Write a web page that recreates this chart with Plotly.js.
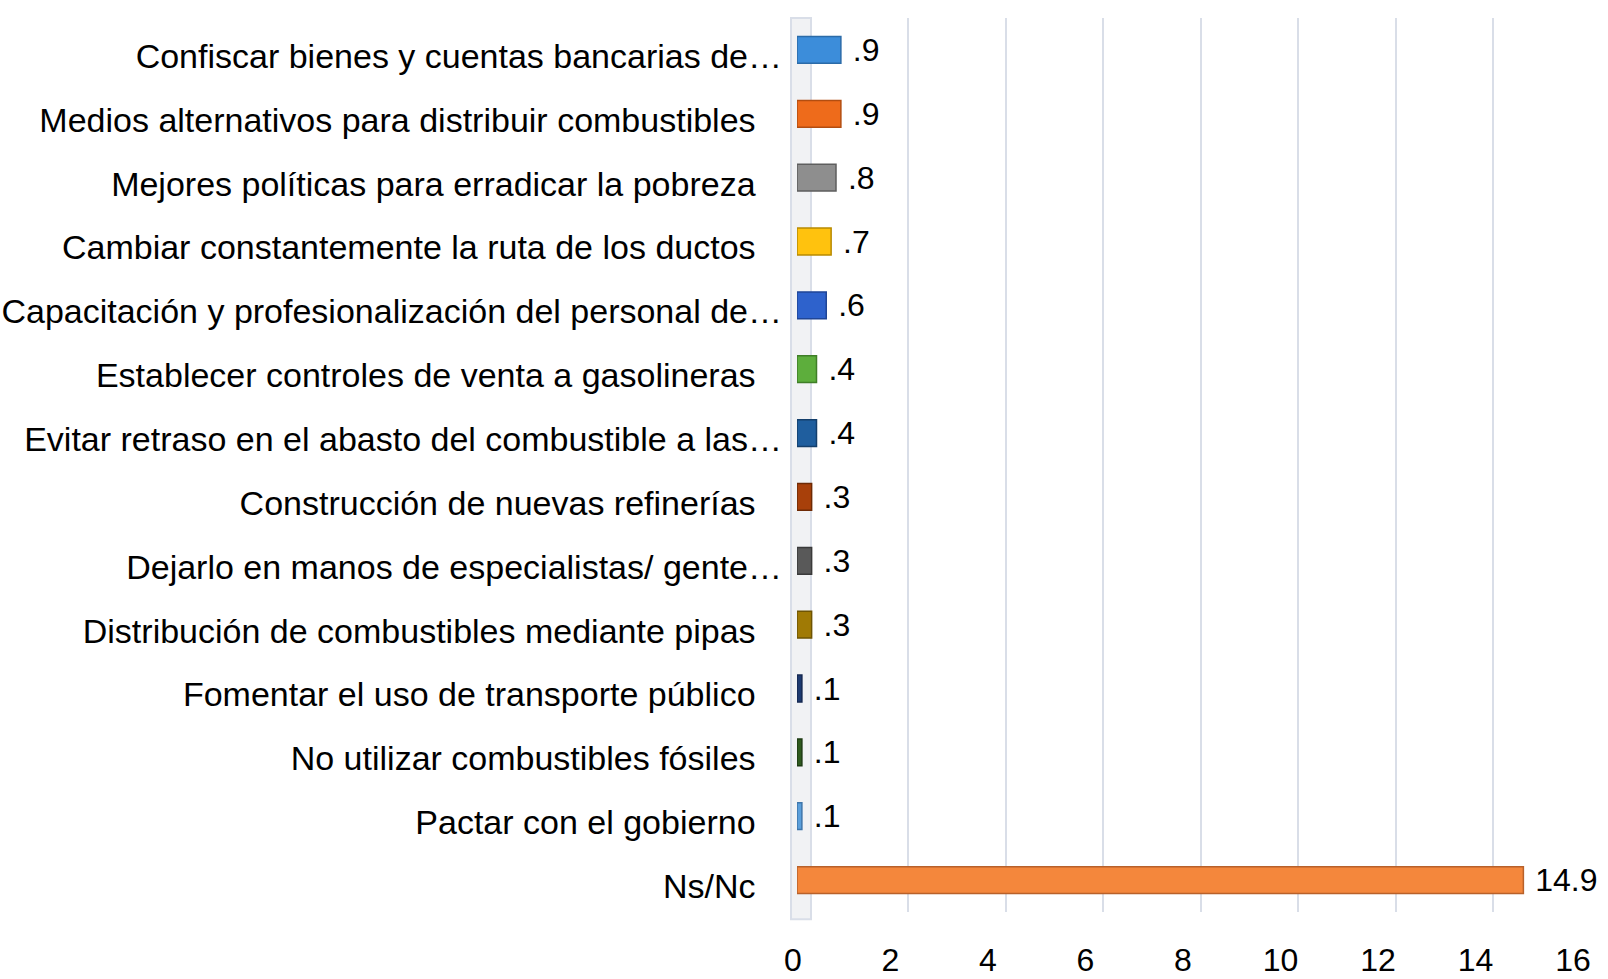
<!DOCTYPE html>
<html>
<head>
<meta charset="utf-8">
<script src="https://cdn.plot.ly/plotly-3.0.1.min.js"></script>
<style>
  html, body { margin: 0; padding: 0; background: #ffffff; }
  #chart { width: 1608px; height: 979px; }
</style>
</head>
<body>
<div id="chart"></div>
<script>
// ---- data ----
var categories = [
  "Confiscar bienes y cuentas bancarias de…",
  "Medios alternativos para distribuir combustibles",
  "Mejores políticas para erradicar la pobreza",
  "Cambiar constantemente la ruta de los ductos",
  "Capacitación y profesionalización del personal de…",
  "Establecer controles de venta a gasolineras",
  "Evitar retraso en el abasto del combustible a las…",
  "Construcción de nuevas refinerías",
  "Dejarlo en manos de especialistas/ gente…",
  "Distribución de combustibles mediante pipas",
  "Fomentar el uso de transporte público",
  "No utilizar combustibles fósiles",
  "Pactar con el gobierno",
  "Ns/Nc"
];
var values = [0.9, 0.9, 0.8, 0.7, 0.6, 0.4, 0.4, 0.3, 0.3, 0.3, 0.1, 0.1, 0.1, 14.9];
var valueLabels = [".9", ".9", ".8", ".7", ".6", ".4", ".4", ".3", ".3", ".3", ".1", ".1", ".1", "14.9"];
var xTickValues = [0, 2, 4, 6, 8, 10, 12, 14, 16];

// ---- styles ----
var barColors = [
  "#3C8DDA", "#EE6B1B", "#8E8E8E", "#FFC20E", "#2E62CC", "#5DAE3C", "#1F5E9E",
  "#A8400A", "#595959", "#A07A05", "#1D3A70", "#2F5A1E", "#5B9FDB", "#F4873C"
];
var edgeColors = [
  "#2B6BA8", "#B34D10", "#5E5E5E", "#B88A00", "#1F4596", "#3F7E27", "#143F6B",
  "#6E2A05", "#3A3A3A", "#6E5403", "#132750", "#1E3B13", "#3E76AB", "#B8612A"
];

// pad non-truncated labels so they end further left, as in the reference
var tickText = categories.map(function (c) {
  return c.slice(-1) === "…" ? c : c + "\u2002\u00a0";
});

var trace = {
  type: "bar",
  orientation: "h",
  y: categories,
  x: values,
  width: 0.42,
  marker: { color: barColors, line: { color: edgeColors, width: 1.5 } },
  text: valueLabels.map(function (t) { return "\u00a0" + t; }),
  textposition: "outside",
  constraintext: "none",
  cliponaxis: false,
  textfont: { family: "Liberation Sans, Arial, sans-serif", size: 32, color: "#000000" },
  hoverinfo: "x+y"
};

var plotW = 780;
var layout = {
  width: 1608,
  height: 979,
  paper_bgcolor: "#ffffff",
  plot_bgcolor: "rgba(0,0,0,0)",
  margin: { l: 797, r: 31, t: 18, b: 67 },
  showlegend: false,
  font: { family: "Liberation Sans, Arial, sans-serif", color: "#000000" },
  xaxis: {
    range: [0, 16],
    tickvals: xTickValues,
    ticktext: xTickValues.map(String),
    showgrid: false,
    zeroline: false,
    showline: false,
    ticks: "",
    ticklabelstandoff: 26,
    ticklabelshift: -4,
    tickfont: { size: 32, color: "#000000" },
    fixedrange: true
  },
  xaxis2: {
    overlaying: "x",
    side: "bottom",
    range: [-0.287, 16 - 0.287],
    tickvals: xTickValues,
    showticklabels: false,
    showgrid: true,
    gridcolor: "#D9DEE8",
    gridwidth: 2,
    zeroline: false,
    ticks: ""
  },
  yaxis: {
    type: "category",
    autorange: "reversed",
    tickvals: categories,
    ticktext: tickText,
    showgrid: false,
    zeroline: false,
    showline: false,
    ticks: "",
    ticklabelstandoff: 14,
    ticklabelshift: -6,
    tickfont: { size: 34, color: "#000000" },
    fixedrange: true
  },
  shapes: [
    {
      type: "rect", xref: "paper", yref: "paper",
      x0: -6 / plotW, x1: 14 / plotW, y0: -0.008, y1: 1.0,
      fillcolor: "rgba(215,217,224,0.35)",
      line: { color: "#D9DEE8", width: 2 },
      layer: "below"
    }
  ]
};

// an empty trace that activates the overlay axis carrying the gridlines
var gridTrace = {
  type: "scatter", x: [], y: [], xaxis: "x2", yaxis: "y",
  hoverinfo: "skip", showlegend: false
};

Plotly.newPlot("chart", [gridTrace, trace], layout, { displayModeBar: false, staticPlot: true });
</script>
</body>
</html>
